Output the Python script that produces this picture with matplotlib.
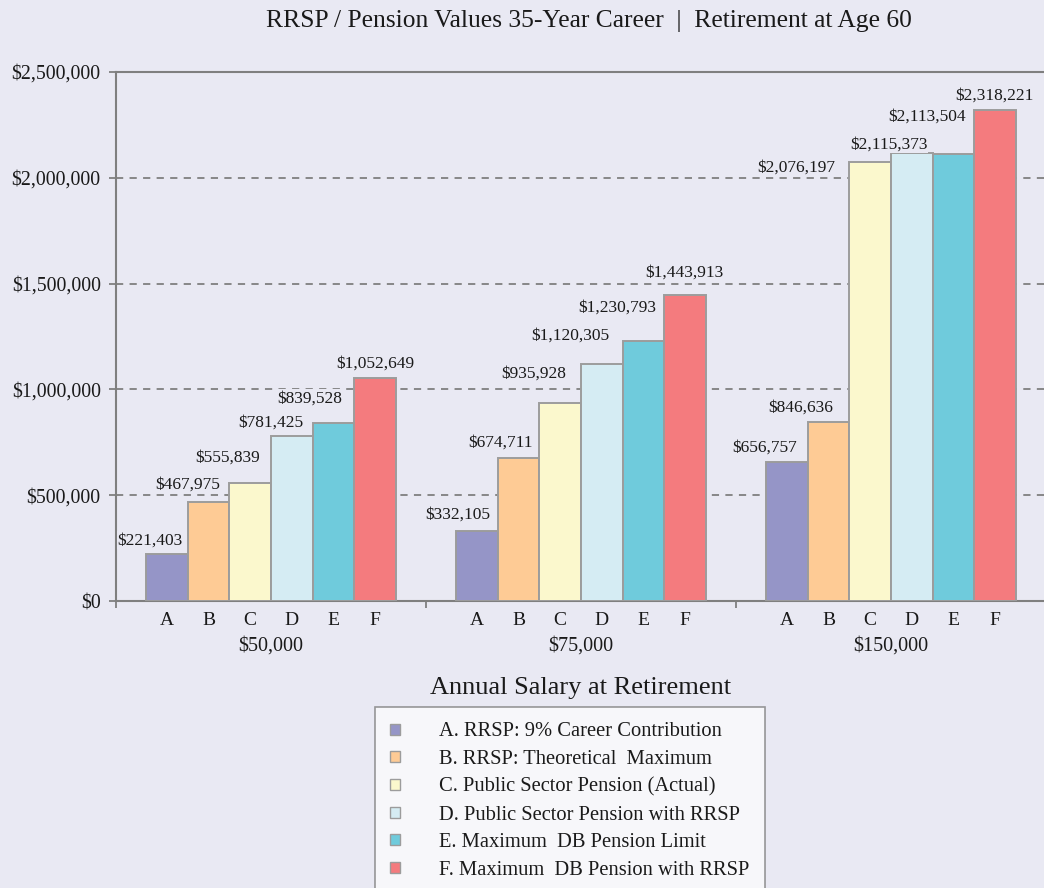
"""RRSP vs pension values, grouped bars by salary at retirement."""

import matplotlib

matplotlib.use("Agg")
import matplotlib.pyplot as plt
from matplotlib.patches import Patch
from matplotlib.transforms import blended_transform_factory

salaries = ["$50,000", "$75,000", "$150,000"]
letters = ["A", "B", "C", "D", "E", "F"]
series_names = [
    "A. RRSP: 9% Career Contribution",
    "B. RRSP: Theoretical  Maximum",
    "C. Public Sector Pension (Actual)",
    "D. Public Sector Pension with RRSP",
    "E. Maximum  DB Pension Limit",
    "F. Maximum  DB Pension with RRSP",
]
# values[series][salary group]
values = [
    [221403, 332105, 656757],
    [467975, 674711, 846636],
    [555839, 935928, 2076197],
    [781425, 1120305, 2115373],
    [839528, 1230793, 2113504],
    [1052649, 1443913, 2318221],
]
yticks = [0, 500000, 1000000, 1500000, 2000000, 2500000]

colors = ["#9595c7", "#fecb95", "#fbf8cd", "#d5ecf3", "#6fcbdc", "#f47b7e"]
# label offsets (pixels) relative to bar centre / bar top, as laid out in the source
label_dx = [
    [-17, -19, -23],
    [-21, -18, -28],
    [-23, -27, -74],
    [-21, -31, -23],
    [-24, -26, -26],
    [0, 0, 0],
]
label_dy = [
    [14, 16, 14],
    [17, 16, 14],
    [26, 29, -6],
    [13, 28, 9],
    [25, 33, 37],
    [15, 23, 15],
]

BG = "#e9e9f3"
GRAY = "#7f7f7f"
INK = "#1a1a1a"
FONT = "Liberation Serif"
plt.rcParams["font.family"] = [FONT, "DejaVu Serif"]

fig = plt.figure(figsize=(10.44, 8.88), dpi=100, facecolor=BG)
ax = fig.add_axes((116 / 1044, 1 - 601 / 888, 930 / 1044, 529 / 888), facecolor=BG)

width = 0.134
centers = []
for i, (name, vals) in enumerate(zip(series_names, values)):
    xs = [g + 0.5 + (i - 2.5) * width for g in range(len(salaries))]
    centers.extend(xs)
    ax.bar(xs, vals, width=width, color=colors[i], edgecolor="#9c9c9c",
           linewidth=1.4, zorder=3, label=name)
    for g, (x, v) in enumerate(zip(xs, vals)):
        ax.annotate(f"${v:,.0f}", (x, v), xytext=(label_dx[i][g], label_dy[i][g]),
                    textcoords="offset pixels", ha="center", va="center",
                    fontsize=12.5, color=INK, zorder=4,
                    bbox=dict(boxstyle="square,pad=0.05", fc=BG, ec="none"))

ax.set_xlim(0, 3)
ax.set_ylim(0, 2500000)
ax.set_yticks(yticks)
ax.set_yticklabels([f"${t:,.0f}" for t in yticks], fontsize=14.3, color=INK)
for t in yticks[1:-1]:
    ax.axhline(t, color=GRAY, linewidth=1.3, linestyle=(0, (4, 3.5)), zorder=1)

ax.set_xticks([0, 1, 2, 3])
ax.set_xticklabels([])
ax.set_xticks(sorted(centers), minor=True)
ax.set_xticklabels(letters * len(salaries), minor=True, fontsize=14, color=INK)
ax.tick_params(axis="x", which="minor", length=0, pad=8)
ax.tick_params(axis="x", which="major", length=5, width=1.3, color=GRAY)
ax.tick_params(axis="y", length=5, width=1.3, color=GRAY, pad=6)

trans = blended_transform_factory(ax.transData, fig.transFigure)
for g, s in enumerate(salaries):
    ax.text(g + 0.5, 1 - 646 / 888, s, transform=trans, ha="center", va="center",
            fontsize=14.5, color=INK)

for side in ["left", "top", "bottom", "right"]:
    ax.spines[side].set_color(GRAY)
    ax.spines[side].set_linewidth(1.5)

fig.text(589 / 1044, 1 - 21 / 888,
         "RRSP / Pension Values 35-Year Career  |  Retirement at Age 60",
         ha="center", va="center", fontsize=18.4, color=INK)
fig.text(581 / 1044, 1 - 688 / 888, "Annual Salary at Retirement",
         ha="center", va="center", fontsize=19, color=INK)

handles = [Patch(facecolor=c, edgecolor="#9c9c9c", linewidth=1.0) for c in colors]
leg = fig.legend(handles, series_names, loc="upper left",
                 bbox_to_anchor=(375 / 1044, 1 - 707 / 888), fontsize=14.8,
                 frameon=True, fancybox=False, borderpad=0.75, borderaxespad=0,
                 handlelength=0.45, handleheight=0.45, handletextpad=1.9,
                 labelspacing=0.42)
leg.get_frame().set_facecolor("#fbfbfd")
leg.get_frame().set_edgecolor(GRAY)
leg.get_frame().set_linewidth(1.2)
for t in leg.get_texts():
    t.set_color(INK)

fig.savefig("out.png", dpi=100, facecolor=BG)
